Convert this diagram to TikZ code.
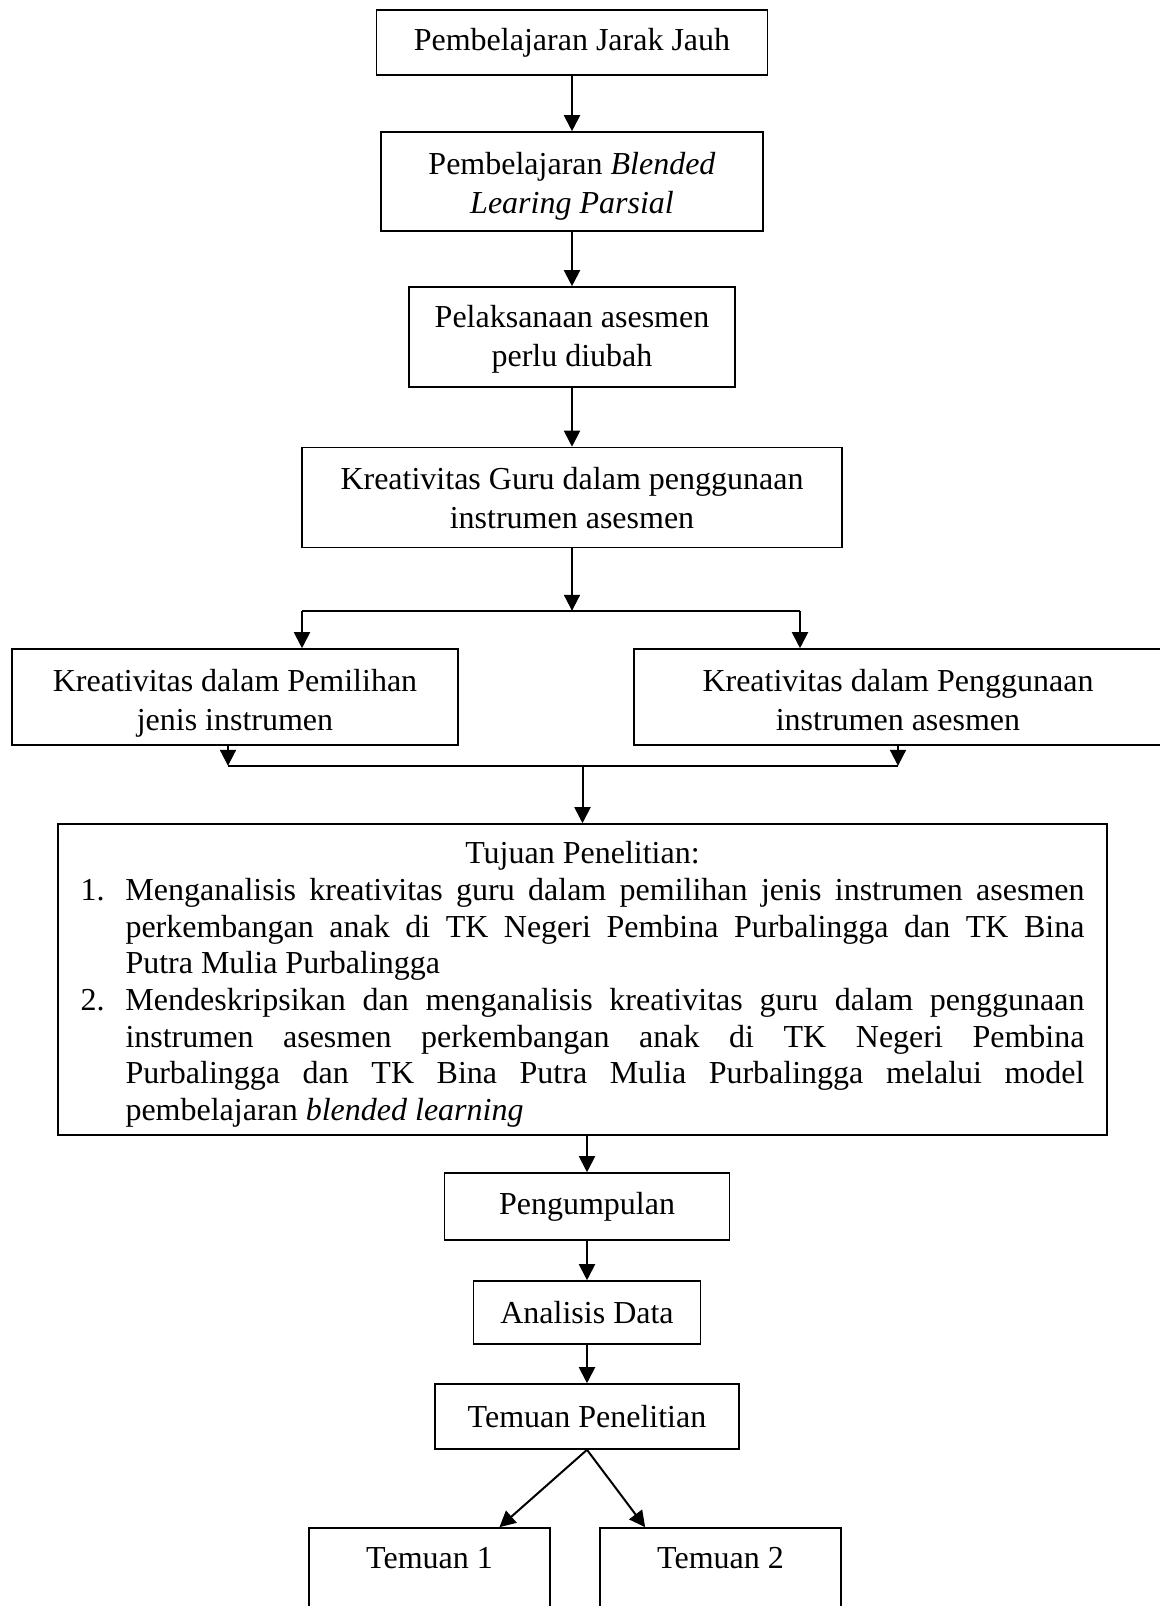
\documentclass[tikz,border=0pt]{standalone}
\usepackage{fontspec}
\setmainfont{Liberation Serif}
\usetikzlibrary{positioning, arrows.meta}
\newcommand{\topgap}[1]{\rule{0pt}{#1}}

\begin{document}
\begin{tikzpicture}[on grid,line width=1pt,>={Triangle[length=8pt,width=8pt]},
		box/.style={draw,line width=0.8pt,align=center,inner sep=0pt,font=\fontsize{16pt}{19.5pt}\selectfont}]
			\useasboundingbox (0,0) rectangle (580pt,-803pt);
			\node[box,minimum width=195.5pt,minimum height=32.5pt] (0) at (286pt,-21.25pt) {Pembelajaran Jarak Jauh};
			\node[box,minimum width=191pt,minimum height=49.5pt] (1) [below=69.5pt of 0] {\topgap{16pt}Pembelajaran \textit{Blended}\\\textit{Learing Parsial}};
			\node[box,minimum width=163pt,minimum height=50pt] (2) [below=77.75pt of 1] {\topgap{13.5pt}Pelaksanaan asesmen\\perlu diubah};
			\node[box,minimum width=270pt,minimum height=50pt] (3) [below=80.25pt of 2] {\topgap{12pt}Kreativitas Guru dalam penggunaan\\instrumen asesmen};
			\node[box,minimum width=223pt,minimum height=48pt] (4) [below left=99.75pt and 168.5pt of 3] {\topgap{17.5pt}Kreativitas dalam Pemilihan\\jenis instrumen};
			\node[box,minimum width=264pt,minimum height=48pt] (5) [below right=99.75pt and 163pt of 3] {\topgap{14.5pt}Kreativitas dalam Penggunaan\\instrumen asesmen};
			\node[box,minimum width=524.5pt,minimum height=155.5pt,text width=502pt,align=justify,
				font=\fontsize{16pt}{18.35pt}\selectfont] (6) [below right=241pt and 5.25pt of 3] {%
				{\centering\topgap{16pt}Tujuan Penelitian:\par}
				\hangindent=22.5pt\hangafter=1\noindent\makebox[22.5pt][l]{1.}Menganalisis kreativitas guru dalam pemilihan jenis instrumen asesmen\linebreak
				perkembangan anak di TK Negeri Pembina Purbalingga dan TK Bina\linebreak
				Putra Mulia Purbalingga\par
				\hangindent=22.5pt\hangafter=1\noindent\makebox[22.5pt][l]{2.}Mendeskripsikan dan menganalisis kreativitas guru dalam penggunaan\linebreak
				instrumen asesmen perkembangan anak di TK Negeri Pembina\linebreak
				Purbalingga dan TK Bina Putra Mulia Purbalingga melalui model\linebreak
				pembelajaran \textit{blended learning}\par};
			\node[box,minimum width=142.5pt,minimum height=33.5pt] (7) [below right=113.5pt and 2.25pt of 6] {Pengumpulan};
			\node[box,minimum width=113.5pt,minimum height=31.5pt] (8) [below=53pt of 7] {Analisis Data};
			\node[box,minimum width=152pt,minimum height=32.5pt] (9) [below=52pt of 8] {Temuan Penelitian};
			\node[box,minimum width=120.5pt,minimum height=50pt] (10) [below left=80.75pt and 78.75pt of 9] {\topgap{16pt}Temuan 1\\\strut};
			\node[box,minimum width=120.5pt,minimum height=50pt] (11) [below right=80.75pt and 66.75pt of 9] {\topgap{16pt}Temuan 2\\\strut};
			\coordinate[below=31.25pt of 3.south] (s);
			\coordinate[left=135pt of s] (sl);
			\coordinate[right=114pt of s] (sr);
			\path[->] 	(0) edge (1)
						(1) edge (2)
						(2) edge (3)
						(3) edge (s)
						(sl) edge (sl |- 4.north)
						(sr) edge (sr |- 5.north)
						(7) edge (8)
						(8) edge (9)
						(9.south) edge (10.36)
						(9.south) edge (11.146);
			\draw (sl) -- (sr);
			\draw[->] ([xshift=-3.5pt]4.south) -- ++(0,-10pt) coordinate (ml);
			\draw[->] (5.south) -- ++(0,-10pt) coordinate (mr);
			\draw (ml) -- (mr);
			\draw[->] (ml -| 6.north) -- (6.north);
			\draw[->] (6.south -| 7.north) -- (7.north);
	\end{tikzpicture}
\end{document}
